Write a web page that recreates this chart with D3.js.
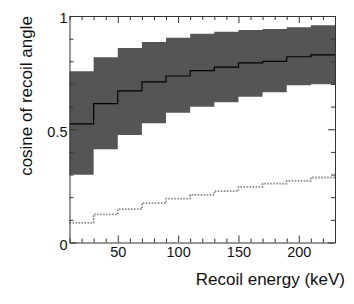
<!DOCTYPE html>
<html>
<head>
<meta charset="utf-8">
<script src="https://cdn.jsdelivr.net/npm/d3@7"></script>
<style>
  body { margin: 0; background: #fff; }
  text { font-family: "Liberation Sans", Arial, sans-serif; fill: #111; }
</style>
</head>
<body>
<div id="chart"></div>
<script>
////////// chart data /////////////
const energyEdges = [10, 30, 50, 70, 90, 110, 130, 150, 170, 190, 210, 230];
const bandUpper  = [0.756, 0.818, 0.859, 0.885, 0.904, 0.922, 0.931, 0.938, 0.943, 0.950, 0.959];
const bandMedian = [0.524, 0.613, 0.669, 0.709, 0.735, 0.759, 0.774, 0.793, 0.800, 0.820, 0.828];
const bandLower  = [0.299, 0.412, 0.475, 0.527, 0.573, 0.599, 0.619, 0.644, 0.663, 0.694, 0.699];
const dottedLine = [0.087, 0.124, 0.147, 0.174, 0.194, 0.210, 0.227, 0.246, 0.260, 0.272, 0.287];
const xMinorTicks = d3.range(10, 231, 10);
const xLabelTicks = [50, 100, 150, 200];
const yMinorTicks = d3.range(0, 1.001, 0.1).map(v => +v.toFixed(1));
const yLabelTicks = [0, 0.5, 1];

const width = 354;
const height = 304;
const margin = { top: 16, right: 19, bottom: 61.5, left: 69.5 };

const svg = d3.select("#chart")
  .append("svg")
  .attr("width", width)
  .attr("height", height);

const x = d3.scaleLinear().domain([10, 230]).range([margin.left, width - margin.right]);
const y = d3.scaleLinear().domain([0, 1]).range([height - margin.bottom, margin.top]);

// step points: one per bin start, plus the closing edge
function steps(values) {
  const pts = values.map((v, i) => ({ e: energyEdges[i], v: v }));
  pts.push({ e: energyEdges[energyEdges.length - 1], v: values[values.length - 1] });
  return pts;
}

const bandPts = bandUpper.map((u, i) => ({ e: energyEdges[i], hi: u, lo: bandLower[i] }));
bandPts.push({ e: 230, hi: bandUpper[bandUpper.length - 1], lo: bandLower[bandLower.length - 1] });

svg.append("path")
  .datum(bandPts)
  .attr("fill", "#555555")
  .attr("d", d3.area()
    .curve(d3.curveStepAfter)
    .x(d => x(d.e))
    .y0(d => y(d.lo))
    .y1(d => y(d.hi)));

const line = d3.line()
  .curve(d3.curveStepAfter)
  .x(d => x(d.e))
  .y(d => y(d.v));

svg.append("path")
  .datum(steps(bandMedian))
  .attr("fill", "none")
  .attr("stroke", "#000")
  .attr("stroke-width", 1.2)
  .attr("d", line);

svg.append("path")
  .datum(steps(dottedLine))
  .attr("fill", "none")
  .attr("stroke", "#8c8c8c")
  .attr("stroke-width", 1.8)
  .attr("stroke-dasharray", "1.6,1.4")
  .attr("d", line);

/////////// axes, ticks pointing inward
const fmtX = d => xLabelTicks.includes(d) ? d : "";
const fmtY = d => yLabelTicks.includes(d) ? String(d) : "";

function styleAxis(g, isMajor, horiz, sign) {
  g.select(".domain").attr("stroke", "#333").attr("stroke-width", 1);
  g.selectAll(".tick line")
    .attr("stroke", "#333")
    .attr(horiz ? "y2" : "x2", d => sign * (isMajor(d) ? 7 : 4));
  g.selectAll(".tick text").style("font-size", "14.5px");
}

const isMajX = d => xLabelTicks.includes(d);
const isMajY = d => yLabelTicks.includes(d);

svg.append("g")
  .attr("transform", `translate(0,${y(0)})`)
  .call(d3.axisBottom(x).tickValues(xMinorTicks).tickFormat(fmtX).tickSizeInner(-4).tickSizeOuter(0).tickPadding(4))
  .call(g => styleAxis(g, isMajX, true, -1));

svg.append("g")
  .attr("transform", `translate(0,${y(1)})`)
  .call(d3.axisTop(x).tickValues(xMinorTicks).tickFormat("").tickSizeInner(-4).tickSizeOuter(0))
  .call(g => styleAxis(g, isMajX, true, 1));

svg.append("g")
  .attr("transform", `translate(${x(10)},0)`)
  .call(d3.axisLeft(y).tickValues(yMinorTicks).tickFormat(fmtY).tickSizeInner(-4).tickSizeOuter(0).tickPadding(2))
  .call(g => styleAxis(g, isMajY, false, 1))
  .call(g => g.selectAll(".tick text").attr("dy", "0.48em"));

svg.append("g")
  .attr("transform", `translate(${x(230)},0)`)
  .call(d3.axisRight(y).tickValues(yMinorTicks).tickFormat("").tickSizeInner(-4).tickSizeOuter(0))
  .call(g => styleAxis(g, isMajY, false, -1));

/////////// axis titles
svg.append("text")
  .attr("text-anchor", "end")
  .attr("x", 345)
  .attr("y", 285)
  .style("font-size", "17px")
  .text("Recoil energy (keV)");

svg.append("text")
  .attr("text-anchor", "middle")
  .attr("transform", "translate(32,96) rotate(-90)")
  .style("font-size", "17px")
  .text("cosine of recoil angle");
</script>
</body>
</html>
